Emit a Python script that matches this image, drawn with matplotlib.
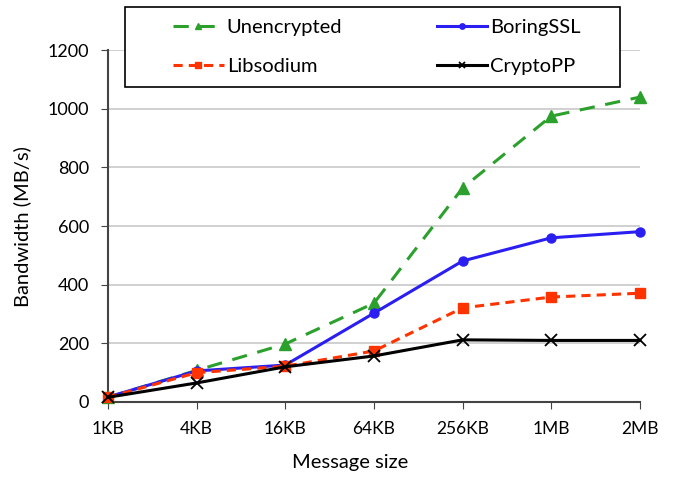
import matplotlib
matplotlib.use("Agg")
import matplotlib.pyplot as plt
from matplotlib.patches import Rectangle

plt.rcParams['font.family'] = ['Lato', 'DejaVu Sans']

sizes = ["1KB", "4KB", "16KB", "64KB", "256KB", "1MB", "2MB"]
unencrypted = [16, 108, 198, 337, 730, 975, 1040]
boringssl = [17, 106, 126, 303, 481, 560, 581]
libsodium = [16, 100, 122, 174, 321, 358, 371]
cryptopp = [16, 65, 120, 157, 212, 210, 210]

fig = plt.figure(figsize=(6.75, 4.78), dpi=100)
ax = fig.add_axes([0.16, 0.159, 0.788, 0.736])
x = list(range(len(sizes)))

l1, = ax.plot(x, unencrypted, color='#2ca02c', ls=(0, (5, 3.5)), lw=2.2, marker='^', ms=8, label='Unencrypted', clip_on=False, zorder=3)
l2, = ax.plot(x, boringssl, color='#2a1ff0', ls='-', lw=2.2, marker='o', ms=6.5, label='BoringSSL', clip_on=False, zorder=3)
l3, = ax.plot(x, libsodium, color='#ff3300', ls=(0, (3, 2)), lw=2.2, marker='s', ms=6.5, label='Libsodium', clip_on=False, zorder=3)
l4, = ax.plot(x, cryptopp, color='black', ls='-', lw=2.2, marker='x', ms=8, mew=1.3, label='CryptoPP', clip_on=False, zorder=4)

ax.set_xlim(0, 6)
ax.set_ylim(0, 1200)
ax.set_xticks(x)
ax.set_xticklabels(sizes)
ax.set_yticks(range(0, 1201, 200))
ax.tick_params(axis='x', labelsize=12.5, length=5, color='#444444', pad=9)
ax.tick_params(axis='y', labelsize=13, length=5, color='#444444', pad=8.5)
ax.yaxis.grid(True, color='#c8c8c8', lw=1.2)
ax.set_axisbelow(True)
for s in ['top', 'right']:
    ax.spines[s].set_visible(False)
for s in ['left', 'bottom']:
    ax.spines[s].set_color('#444444')
    ax.spines[s].set_linewidth(1.5)

ax.set_xlabel('Message size', fontsize=14.5)
ax.xaxis.set_label_coords(0.455, -0.148)
ax.set_ylabel('Bandwidth (MB/s)', fontsize=14.5, labelpad=12)

# legend frame
fig.patches.append(Rectangle((125/675, 1 - 87/478), 495/675, 80/478,
                             transform=fig.transFigure, fill=True, facecolor='white',
                             edgecolor='black', lw=1.2, zorder=5))
leg = fig.legend([l1, l3, l2, l4], ['Unencrypted', 'Libsodium', 'BoringSSL', 'CryptoPP'],
                 loc='center', bbox_to_anchor=(377/675, 1 - 47/478), ncol=2,
                 fontsize=14.5, frameon=False, handlelength=2.5, columnspacing=4.7,
                 labelspacing=1.05, handletextpad=0.15, markerscale=0.6, borderaxespad=0)
leg.set_zorder(6)

fig.savefig('out.png', dpi=100)
